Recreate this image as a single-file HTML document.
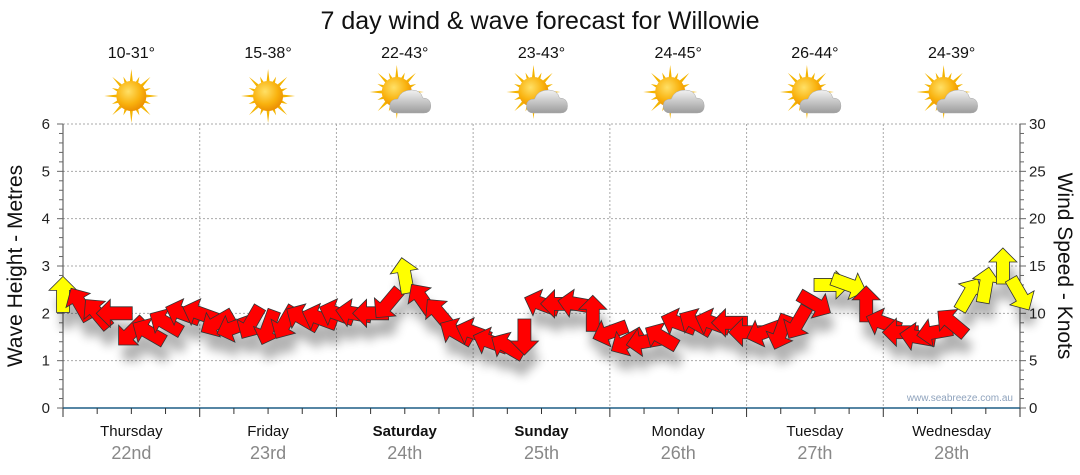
<!DOCTYPE html>
<html><head><meta charset="utf-8"><style>
html,body{margin:0;padding:0;background:#fff;}
svg{display:block;font-family:"Liberation Sans",sans-serif;}
</style></head><body>
<svg id="chart" width="1080" height="475" viewBox="0 0 1080 475" xmlns="http://www.w3.org/2000/svg">
<defs>
<radialGradient id="sunG" cx="0.4" cy="0.35" r="0.7"><stop offset="0" stop-color="#ffe066"/><stop offset="0.6" stop-color="#f9b20e"/><stop offset="1" stop-color="#e98a00"/></radialGradient>
<linearGradient id="cloudG" x1="0" y1="0" x2="0" y2="1"><stop offset="0" stop-color="#f2f2f2"/><stop offset="1" stop-color="#9c9c9c"/></linearGradient>
<filter id="sh" x="-50%" y="-50%" width="200%" height="200%"><feGaussianBlur stdDeviation="5"/></filter>
</defs>
<text x="540" y="29" text-anchor="middle" font-size="25" fill="#111">7 day wind &amp; wave forecast for Willowie</text>
<text transform="translate(22,266) rotate(-90)" text-anchor="middle" font-size="21" fill="#111">Wave Height - Metres</text>
<text transform="translate(1058,266) rotate(90)" text-anchor="middle" font-size="21" fill="#111">Wind Speed - Knots</text>
<text x="1013" y="401" text-anchor="end" font-size="10" fill="#8fa3bd">www.seabreeze.com.au</text>
<g id="grid"></g><g id="axes"></g><g id="shadows" filter="url(#sh)" opacity="0.3"></g><g id="arrows"></g><g id="topgrp"></g>
</svg>
<script>
const days = ["Thursday","Friday","Saturday","Sunday","Monday","Tuesday","Wednesday"];
const dates = ["22nd","23rd","24th","25th","26th","27th","28th"];
const temps = ["10-31°","15-38°","22-43°","23-43°","24-45°","26-44°","24-39°"];
const icons = ["sun","sun","cloud","cloud","cloud","cloud","cloud"];
const boldDays = [false,false,true,true,false,false,false];
const waveTicks = [0,1,2,3,4,5,6];
const windTicks = [0,5,10,15,20,25,30];
// wind speed (knots) every 3 hours
const windSpeed = [12,11,10,10,8,8,9,10, 10,9,8.5,9,8.5,9,9.5,9.5, 10,10,10,11,14,11.5,10,8, 8,7,6.5,7.5,11,11,11,10, 8,7,7,7.5,9,9,9,9, 8,8,8,9,11,13,13,11, 9,8,7.5,8,9,12,13,15,12];
// direction the arrow points (degrees, screen, 0 = right, clockwise)
const windDir = [270,240,230,180,135,210,210,200, 200,150,160,120,110,120,210,200, 200,190,180,130,260,235,230,210, 200,200,210,90,200,180,190,270, 160,150,170,210,200,210,200,180, 180,160,110,120,30,0,20,270, 200,180,190,170,220,300,280,270,60];

const X0=63,X1=1020,Y0=408,Y6=124;
const xScale=i=>X0+(X1-X0)*i/56;
const yWave=m=>Y0-(Y0-Y6)*m/6;
const yKnot=k=>Y0-(Y0-Y6)*k/30;
const NS="http://www.w3.org/2000/svg";
function mk(tag,attrs,parent){const e=document.createElementNS(NS,tag);for(const k in attrs)e.setAttribute(k,attrs[k]);parent.appendChild(e);return e;}
const gridG=document.getElementById('grid'),axesG=document.getElementById('axes'),topG=document.getElementById('topgrp');
waveTicks.forEach(m=>{if(m>0){const l=mk('line',{x1:X0,x2:X1,y1:yWave(m),y2:yWave(m),stroke:'#aaa','stroke-dasharray':'2,2'},gridG);

}});
for(let d=1;d<7;d++){const x=X0+(X1-X0)*d/7;const l=mk('line',{x1:x,x2:x,y1:Y6,y2:Y0,stroke:'#aaa','stroke-dasharray':'2,2'},gridG);

}
mk('line',{x1:X0,x2:X0,y1:Y6,y2:Y0+8,stroke:'#444'},axesG);
mk('line',{x1:X1,x2:X1,y1:Y6,y2:Y0,stroke:'#444'},axesG);
const bx=mk('line',{x1:X0,x2:X1,y1:Y0,y2:Y0,stroke:'#1f5f86','stroke-width':1.5},axesG);


for(let i=0;i<=30;i++){const y=Y0-(Y0-Y6)*i/30;const L=i%5==0?6:4;
mk('line',{x1:X0-L,x2:X0,y1:y,y2:y,stroke:'#666'},axesG);
mk('line',{x1:X1,x2:X1+L,y1:y,y2:y,stroke:'#666'},axesG);}
for(let i=0;i<=28;i++){const x=X0+(X1-X0)*i/28;mk('line',{x1:x,x2:x,y1:Y0,y2:Y0+(i%4==0?9:6),stroke:'#333'},axesG);}
waveTicks.forEach(m=>{const t=mk('text',{x:50,y:yWave(m)+5,'text-anchor':'end','font-size':15,fill:'#222'},axesG);t.textContent=m;

});
windTicks.forEach(k=>{const t=mk('text',{x:1029,y:yKnot(k)+5,'font-size':15,fill:'#222'},axesG);t.textContent=k;

});
days.forEach((d,i)=>{const cx=X0+(X1-X0)*(i+0.5)/7;
const t=mk('text',{x:cx,y:436,'text-anchor':'middle','font-size':15,fill:'#111','font-weight':boldDays[i]?'bold':'normal'},topG);t.textContent=d;


const t2=mk('text',{x:cx,y:459,'text-anchor':'middle','font-size':18,fill:'#888'},topG);t2.textContent=dates[i];


const t3=mk('text',{x:cx,y:58,'text-anchor':'middle','font-size':16,fill:'#111'},topG);t3.textContent=temps[i];


const g=mk('g',{transform:`translate(${cx},96)`},topG);


const sx=icons[i]=='sun'?0:-8,sy=icons[i]=='sun'?0:-4;
for(let r=0;r<16;r++){const a=r*Math.PI/8,L=r%2==0?27:21,w=0.13;
mk('polygon',{points:`${sx+Math.cos(a-w)*13},${sy+Math.sin(a-w)*13} ${sx+Math.cos(a)*L},${sy+Math.sin(a)*L} ${sx+Math.cos(a+w)*13},${sy+Math.sin(a+w)*13}`,fill:'#f4b400'},g);}
mk('circle',{cx:sx,cy:sy,r:15,fill:'url(#sunG)'},g);
if(icons[i]=='cloud'){mk('path',{d:'M-8,17 Q-15,17 -15,10 Q-15,3 -7,3 Q-4,-6 7,-6 Q16,-6 18,2 Q26,2 26,10 Q26,17 19,17 Z',fill:'url(#cloudG)',stroke:'#aaa','stroke-width':0.5},g);}
});
const arrowsG=document.getElementById('arrows'),shG=document.getElementById('shadows');
const shape='M-18,-6.5 L4,-6.5 L4,-14 L18,0 L4,14 L4,6.5 L-18,6.5 Z';
windSpeed.forEach((k,i)=>{const x=xScale(i),y=yKnot(k);
mk('path',{d:shape,transform:`translate(${x+4},${y+16}) rotate(${windDir[i]})`,fill:'#000'},shG);
const a=mk('path',{d:shape,transform:`translate(${x},${y}) rotate(${windDir[i]})`,fill:k>=12?'#ffff00':'#ff0000',stroke:'#333','stroke-width':0.8},arrowsG);

});
</script>
</body></html>
